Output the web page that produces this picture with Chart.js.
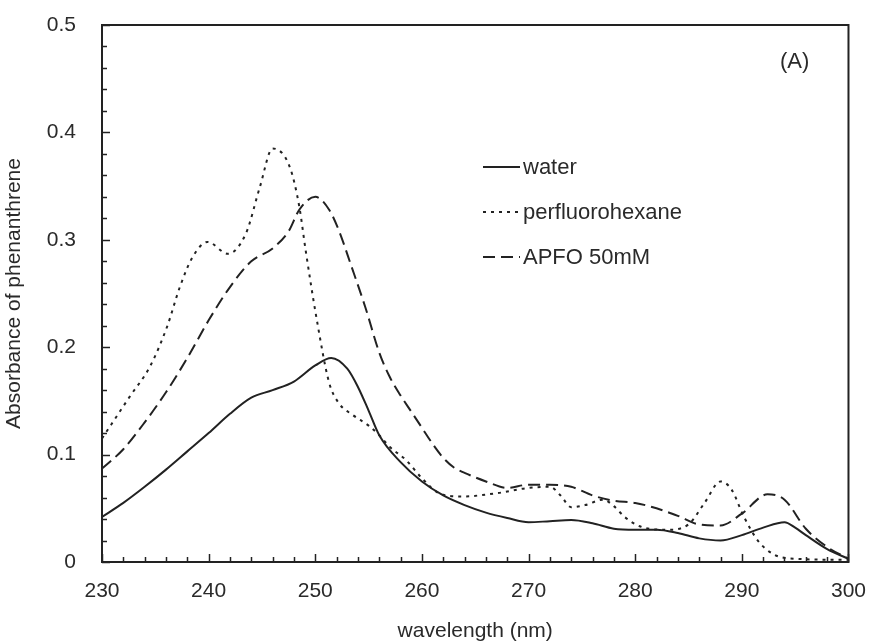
<!DOCTYPE html>
<html>
<head>
<meta charset="utf-8">
<script src="https://cdn.jsdelivr.net/npm/chart.js@4.4.1/dist/chart.umd.min.js"></script>
<style>
  html, body { margin: 0; padding: 0; background: #fff; }
  #wrap { width: 875px; height: 644px; }
</style>
</head>
<body>
<div id="wrap"><canvas id="absChart" width="875" height="644"></canvas></div>
<script>
const seriesNames = ["water", "perfluorohexane", "APFO 50mM"];

const waterX = [230, 232, 234, 236, 238, 240, 242, 244, 246, 248, 250, 251.5, 253, 254, 255, 256, 258, 260, 262, 264, 266, 268, 270, 272, 274, 276, 278, 280, 282, 284, 286, 288, 290, 292, 294, 295, 296, 298, 300];
const waterY = [0.042, 0.055, 0.070, 0.086, 0.103, 0.120, 0.138, 0.153, 0.160, 0.168, 0.183, 0.190, 0.180, 0.163, 0.141, 0.118, 0.093, 0.075, 0.062, 0.053, 0.046, 0.041, 0.037, 0.038, 0.039, 0.036, 0.031, 0.030, 0.030, 0.027, 0.022, 0.020, 0.025, 0.032, 0.037, 0.032, 0.025, 0.012, 0.003];

const pfhX = [230, 232.6, 234.5, 236.1, 237.3, 238.5, 239.9, 241.8, 243.5, 244.8, 246, 247.6, 248.5, 249.1, 250.1, 251.3, 252.2, 253.5, 255, 256, 257, 258.5, 260, 261.6, 263.7, 267, 270, 272, 273, 274, 275.3, 277, 278, 279, 280.5, 283, 285, 286.5, 288, 289, 290.2, 291.5, 293, 295, 300];
const pfhY = [0.115, 0.154, 0.182, 0.219, 0.256, 0.284, 0.298, 0.287, 0.306, 0.349, 0.385, 0.368, 0.331, 0.290, 0.228, 0.167, 0.148, 0.137, 0.127, 0.118, 0.107, 0.095, 0.078, 0.064, 0.061, 0.064, 0.069, 0.070, 0.062, 0.051, 0.053, 0.058, 0.052, 0.042, 0.033, 0.030, 0.035, 0.055, 0.075, 0.068, 0.042, 0.020, 0.007, 0.003, 0.002];

const apfoX = [230, 232, 234, 236, 238, 240, 242, 244, 246, 247.5, 248.5, 250, 251.3, 252.2, 253.4, 254.7, 256, 257, 258, 259, 260, 261, 262, 263, 264, 266, 268, 270, 272, 274, 276, 278, 280, 282, 284, 286, 288, 290, 292.4, 294, 296, 298, 300];
const apfoY = [0.087, 0.105, 0.130, 0.158, 0.190, 0.225, 0.256, 0.280, 0.292, 0.308, 0.328, 0.340, 0.328, 0.309, 0.275, 0.237, 0.195, 0.172, 0.155, 0.140, 0.125, 0.110, 0.097, 0.088, 0.083, 0.075, 0.069, 0.072, 0.072, 0.070, 0.062, 0.057, 0.055, 0.050, 0.043, 0.035, 0.034, 0.045, 0.063, 0.058, 0.031, 0.014, 0.003];

const xTicks = [230, 240, 250, 260, 270, 280, 290, 300];
const yTicks = [0, 0.1, 0.2, 0.3, 0.4, 0.5];

const ink = "#222";
const textInk = "#2a2a2a";
const font = "Liberation Sans, Arial, sans-serif";
const fs = 21;

const pts = (xs, ys) => xs.map((x, i) => ({ x, y: ys[i] }));

// box, inward ticks, legend and panel letter
const frame = {
  id: "frame",
  afterDraw(chart) {
    const { ctx, chartArea: a, scales: { x, y } } = chart;
    ctx.save();
    ctx.strokeStyle = ink;
    ctx.lineWidth = 1.5;
    for (let v = 230; v <= 300; v += 2) {
      const px = Math.round(x.getPixelForValue(v)) + 0.5;
      const len = v % 10 === 0 ? 8 : 5;
      ctx.beginPath(); ctx.moveTo(px, a.bottom); ctx.lineTo(px, a.bottom - len); ctx.stroke();
    }
    for (let i = 0; i <= 25; i++) {
      const py = Math.round(y.getPixelForValue(i * 0.02)) + 0.5;
      const len = i % 5 === 0 ? 8 : 5;
      ctx.beginPath(); ctx.moveTo(a.left, py); ctx.lineTo(a.left + len, py); ctx.stroke();
    }
    ctx.lineWidth = 2;
    ctx.strokeRect(a.left, a.top, a.right - a.left, a.bottom - a.top);

    // legend
    const rows = [167, 212, 257];
    ctx.font = "22px " + font;
    ctx.fillStyle = textInk;
    ctx.textBaseline = "middle";
    chart.data.datasets.forEach((ds, i) => {
      ctx.setLineDash(ds.borderDash || []);
      ctx.lineWidth = 2;
      ctx.beginPath(); ctx.moveTo(483, rows[i]); ctx.lineTo(520, rows[i]); ctx.stroke();
      ctx.setLineDash([]);
      ctx.fillText(ds.label, 523, rows[i] + 1);
    });
    ctx.fillText("(A)", 780, 62);
    ctx.restore();
  }
};

new Chart(document.getElementById("absChart"), {
  type: "line",
  data: {
    datasets: [
      { label: seriesNames[0], data: pts(waterX, waterY), borderDash: [] },
      { label: seriesNames[1], data: pts(pfhX, pfhY), borderDash: [3, 5] },
      { label: seriesNames[2], data: pts(apfoX, apfoY), borderDash: [12, 6] }
    ].map(ds => ({
      ...ds,
      borderColor: ink,
      borderWidth: 2,
      pointRadius: 0,
      fill: false,
      cubicInterpolationMode: "monotone"
    }))
  },
  options: {
    responsive: false,
    animation: false,
    layout: { padding: { left: 0, right: 22, top: 25, bottom: 0 } },
    plugins: { legend: { display: false }, tooltip: { enabled: false } },
    scales: {
      x: {
        type: "linear",
        min: 230,
        max: 300,
        afterBuildTicks: s => { s.ticks = xTicks.map(v => ({ value: v })); },
        afterFit: s => { s.height = 82; },
        grid: { display: false },
        border: { display: false },
        ticks: { color: textInk, font: { family: font, size: fs }, padding: 9 },
        title: { display: true, text: "wavelength (nm)", color: textInk, font: { family: font, size: fs }, padding: { top: 4, bottom: 0 } }
      },
      y: {
        min: 0,
        max: 0.5,
        afterBuildTicks: s => { s.ticks = yTicks.map(v => ({ value: v })); },
        afterFit: s => { s.width = 102; s.paddingTop = 0; s.paddingBottom = 0; },
        grid: { display: false },
        border: { display: false },
        ticks: { color: textInk, font: { family: font, size: fs }, padding: 18, callback: v => v === 0 ? "0" : v.toFixed(1) },
        title: { display: true, text: "Absorbance of phenanthrene", color: textInk, font: { family: font, size: fs }, padding: { top: 2, bottom: 4 } }
      }
    }
  },
  plugins: [frame]
});
</script>
</body>
</html>
